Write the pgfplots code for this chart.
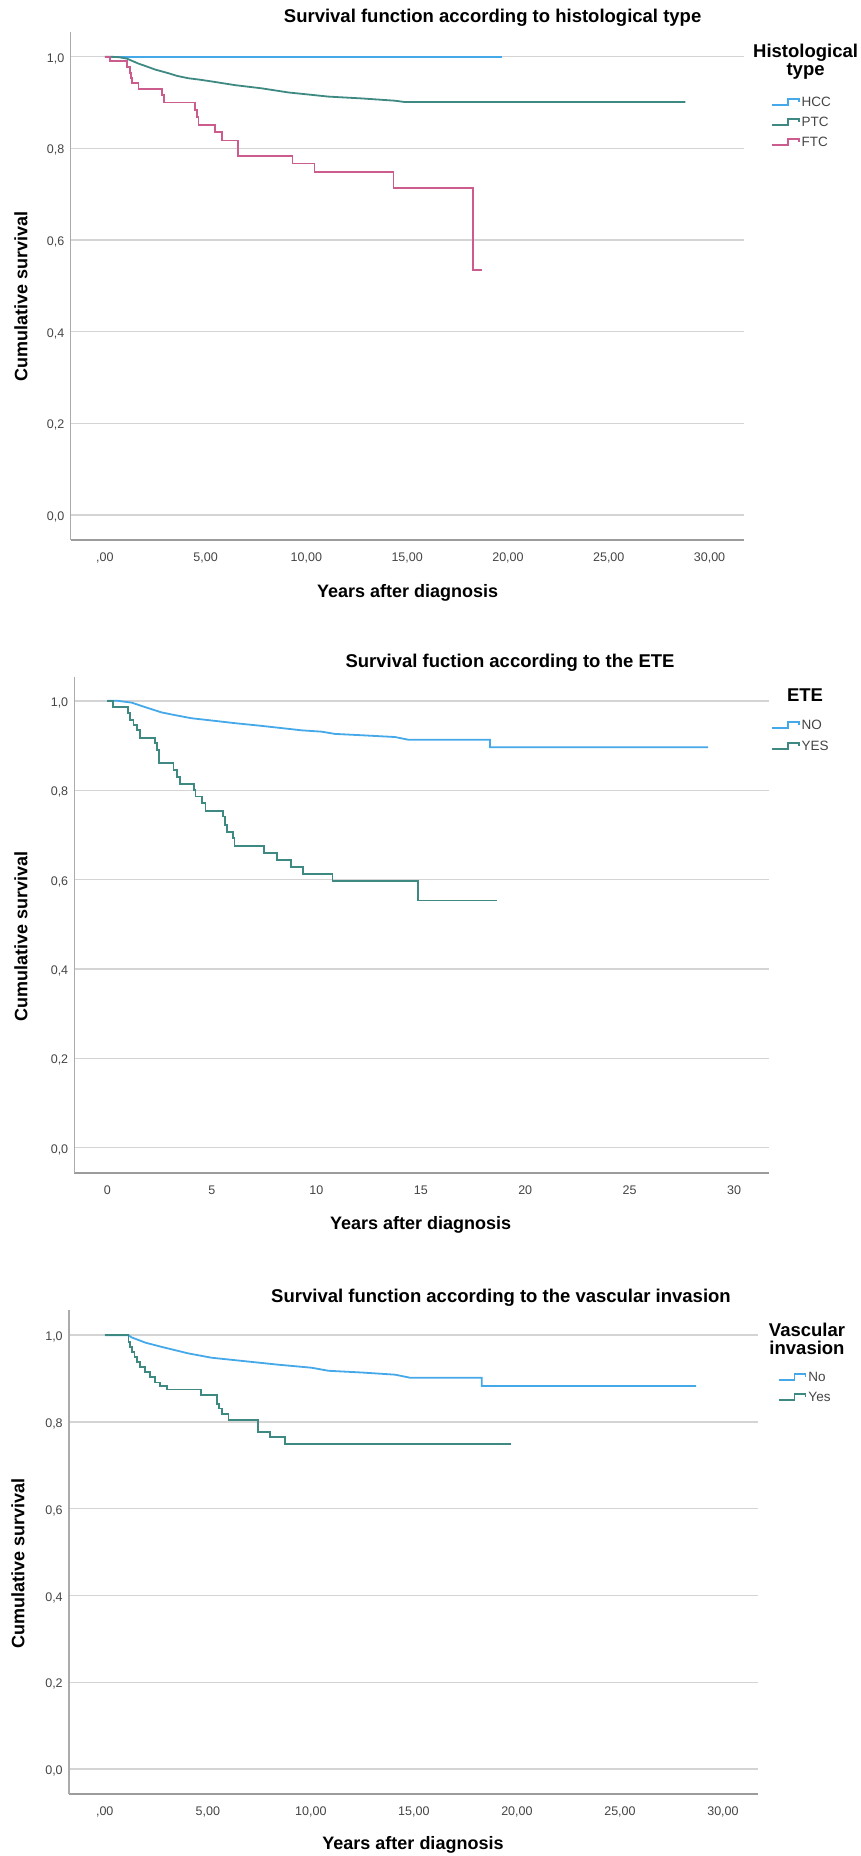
\documentclass[border=0pt]{standalone}
\usepackage{fontspec}
\setmainfont{Liberation Sans}
\usepackage{pgfplots}
\pgfplotsset{compat=1.18}
\definecolor{cBlue}{HTML}{45A8E8}
\definecolor{cTeal}{HTML}{3E8A82}
\definecolor{cPink}{HTML}{CC5C8E}
\definecolor{gridc}{HTML}{D4D4D4}
\definecolor{axc}{HTML}{9C9C9C}
\definecolor{tickc}{HTML}{444444}

\pgfplotsset{
  km/.style={
    scale only axis,
    axis x line*=bottom, axis y line*=left,
    x axis line style={line width=2.2pt, draw=axc, -},
    y axis line style={line width=1.2pt, draw=axc!85, -},
    ymajorgrids, xmajorgrids=false,
    major grid style={draw=gridc, line width=1.4pt},
    major tick length=0pt,
    ytick={0,0.2,0.4,0.6,0.8,1.0},
    yticklabels={{0,0},{0,2},{0,4},{0,6},{0,8},{1,0}},
    xtick={0,5,10,15,20,25,30},
    tick label style={font=\fontsize{12.5}{14}\selectfont, text=tickc},
    yticklabel style={anchor=east, inner sep=0pt, xshift=-6pt, yshift=-2pt},
    xticklabel style={anchor=north, inner sep=0pt, yshift=-12.5pt},
    legend cell align=left,
    legend image code/.code={\draw[##1, line width=1.5pt] (0pt,-3pt) -- (16pt,-3pt) -- (16pt,3pt) -- (27pt,3pt) -- (27pt,0pt);},
    legend style={draw=none, fill=none, inner sep=0pt, outer sep=0pt,
      font=\fontsize{13.5}{15}\selectfont, text=tickc,
      nodes={inner sep=0pt, text height=9.3pt, text depth=0pt},
      column sep=2pt},
  },
  curve/.style={line width=1.8pt},
}

\newcommand{\ttl}{\bfseries\fontsize{18.5}{20}\selectfont}
\newcommand{\lab}{\bfseries\fontsize{18}{20}\selectfont}

\begin{document}
\begin{tikzpicture}
\path[use as bounding box] (0pt,0pt) rectangle (861pt,-1856pt);

% ---------------- Plot 1 ----------------
\begin{axis}[km,
  at={(70.5pt,-540pt)}, anchor=south west,
  width=673.3pt, height=508.3pt,
  xmin=-1.70, xmax=31.70, ymin=-0.0546, ymax=1.0546,
  xticklabels={{,00},{5,00},{10,00},{15,00},{20,00},{25,00},{30,00}},
  legend style={at={(1.0404,0.8708)}, anchor=north west, row sep=10.7pt},
]
\addplot[curve, cBlue, const plot] coordinates {(0,1) (19.7,1)};
\addlegendentry{HCC}
\addplot[curve, cTeal, sharp plot] coordinates {
(0,1) (0.3,1) (0.7,0.999) (1.09,0.996) (1.67,0.985) (2.0,0.980) (2.50,0.972) (3.16,0.964)
(3.6,0.958) (4.15,0.953) (4.7,0.950) (5.31,0.946) (6.46,0.938) (7.79,0.931) (9.11,0.922)
(10.0,0.918) (11.09,0.913) (12.75,0.909) (14.4,0.904) (14.9,0.901) (28.8,0.901)};
\addlegendentry{PTC}
\addplot[curve, cPink, const plot] coordinates {
(0,1.0) (0.26,0.990) (1.12,0.978) (1.24,0.964) (1.30,0.953) (1.37,0.942) (1.67,0.929)
(2.83,0.916) (2.94,0.900) (4.48,0.884) (4.56,0.869) (4.65,0.851) (5.47,0.835) (5.80,0.817)
(6.60,0.783) (9.31,0.767) (10.40,0.749) (14.32,0.713) (18.28,0.534) (18.70,0.534)};
\addlegendentry{FTC}
\end{axis}
\node[font=\ttl] at (492.6pt,-18pt) {Survival function according to histological type};
\node[font=\lab] at (407.7pt,-593pt) {Years after diagnosis};
\node[font=\lab, rotate=90] at (21pt,-296pt) {Cumulative survival};
\node[font=\ttl, align=center] at (805.6pt,-62pt) {Histological\\[-2pt]type};

% ---------------- Plot 2 ----------------
\begin{axis}[km,
  at={(74.4pt,-1172.7pt)}, anchor=south west,
  width=694.2pt, height=496pt,
  xmin=-1.58, xmax=31.65, ymin=-0.056, ymax=1.054,
  xticklabels={0,5,10,15,20,25,30},
  legend style={at={(1.0035,0.912)}, anchor=north west, row sep=11.7pt},
]
\addplot[curve, cBlue, sharp plot] coordinates {
(0,1) (0.5,1.0) (1.16,0.996) (1.80,0.986) (2.60,0.974) (3.24,0.968) (4.03,0.961)
(4.99,0.956) (6.11,0.950) (7.38,0.944) (8.34,0.939) (9.30,0.934) (10.26,0.931)
(10.89,0.926) (12.17,0.923) (13.77,0.919) (14.40,0.913) (18.31,0.913) (18.31,0.896) (28.75,0.896)};
\addlegendentry{NO}
\addplot[curve, cTeal, const plot] coordinates {
(0,1.0) (0.28,0.987) (1.00,0.972) (1.10,0.957) (1.25,0.946) (1.40,0.935) (1.56,0.916)
(2.28,0.905) (2.36,0.890) (2.47,0.860) (3.16,0.846) (3.32,0.829) (3.47,0.814) (4.16,0.801)
(4.22,0.786) (4.51,0.771) (4.70,0.754) (5.55,0.741) (5.63,0.722) (5.71,0.707) (6.03,0.693)
(6.08,0.675) (7.50,0.659) (8.13,0.644) (8.77,0.629) (9.38,0.613) (10.77,0.596) (14.85,0.553) (18.63,0.553)};
\addlegendentry{YES}
\end{axis}
\node[font=\ttl] at (510pt,-663pt) {Survival fuction according to the ETE};
\node[font=\lab] at (420.6pt,-1225pt) {Years after diagnosis};
\node[font=\lab, rotate=90] at (21pt,-936pt) {Cumulative survival};
\node[font=\ttl] at (805pt,-695pt) {ETE};

% ---------------- Plot 3 ----------------
\begin{axis}[km,
  at={(68.9pt,-1794.3pt)}, anchor=south west,
  width=688.7pt, height=484.3pt,
  xmin=-1.74, xmax=31.68, ymin=-0.058, ymax=1.058,
  xticklabels={{,00},{5,00},{10,00},{15,00},{20,00},{25,00},{30,00}},
  legend style={at={(1.0296,0.8713)}, anchor=north west, row sep=10.7pt},
]
\addplot[curve, cBlue, sharp plot] coordinates {
(0,1) (1.15,1.0) (1.3,0.995) (1.96,0.983) (2.76,0.973) (4.06,0.958) (5.19,0.948)
(6.81,0.940) (8.42,0.932) (10.04,0.925) (10.85,0.918) (12.47,0.914) (14.09,0.909)
(14.81,0.902) (18.29,0.902) (18.29,0.883) (28.7,0.883)};
\addlegendentry{No}
\addplot[curve, cTeal, const plot] coordinates {
(0,1.0) (1.15,0.985) (1.23,0.973) (1.31,0.962) (1.44,0.950) (1.55,0.938) (1.71,0.927)
(1.96,0.915) (2.20,0.904) (2.44,0.891) (2.68,0.882) (3.01,0.875) (4.67,0.862) (5.43,0.842)
(5.55,0.831) (5.70,0.819) (6.00,0.804) (7.45,0.777) (8.02,0.765) (8.74,0.750) (19.7,0.750)};
\addlegendentry{Yes}
\end{axis}
\node[font=\ttl] at (501pt,-1298pt) {Survival function according to the vascular invasion};
\node[font=\lab] at (413pt,-1845pt) {Years after diagnosis};
\node[font=\lab, rotate=90] at (18pt,-1563pt) {Cumulative survival};
\node[font=\ttl, align=center] at (807pt,-1339pt) {Vascular\\[-2pt]invasion};
\end{tikzpicture}
\end{document}
